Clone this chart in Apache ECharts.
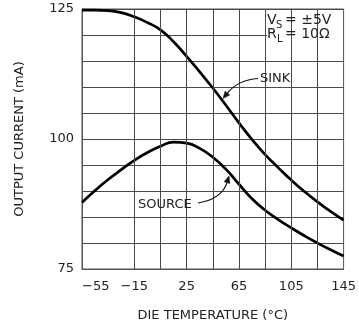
<!DOCTYPE html>
<html>
<head>
<meta charset="utf-8">
<script src="https://cdn.jsdelivr.net/npm/echarts@6/dist/echarts.min.js"></script>
<style>
html,body{margin:0;padding:0;background:#fff;}
#c{width:359px;height:327px;}
</style>
</head>
<body>
<div id="c"></div>
<script>
// Data
const temps = [-55, -45, -35, -25, -15, -5, 5, 15, 25, 35, 45, 55, 65, 75, 85, 95, 105, 115, 125, 135, 145];
const sinkCurrent = [124.8, 124.8, 124.7, 124.3, 123.5, 122.4, 121.0, 118.7, 115.9, 112.9, 109.8, 106.5, 103.1, 99.9, 97.0, 94.5, 92.1, 89.9, 87.9, 86.1, 84.4];
const sourceCurrent = [87.8, 90.1, 92.2, 94.1, 95.9, 97.4, 98.6, 99.4, 99.2, 98.2, 96.5, 94.2, 91.3, 88.5, 86.3, 84.5, 82.9, 81.4, 80.0, 78.7, 77.5];
const xTickLabels = [-55, -15, 25, 65, 105, 145];
const yTickLabels = [75, 100, 125];
const xGridLines = [-15, 5, 25, 45, 65, 85, 105, 125];

const FONT = 'DejaVu Sans';
const TXT = '#222';
const GRIDC = '#4a4a4a';

function pairs(xs, ys){ return xs.map((x,i)=>[x, ys[i]]); }

const chart = echarts.init(document.getElementById('c'), null, {renderer:'canvas'});

function arrow(x1, y1, cx, cy, tx, ty){
  const dx = tx - cx, dy = ty - cy;
  const L = Math.sqrt(dx*dx + dy*dy);
  const ux = dx / L, uy = dy / L;
  const hl = 7, hw = 3;
  const bx = tx - ux*hl, by = ty - uy*hl;
  const px = -uy, py = ux;
  return [
    {type:'bezierCurve', z:10, shape:{x1:x1, y1:y1, x2:bx, y2:by, cpx1:cx, cpy1:cy},
     style:{stroke:'#111', lineWidth:1.2, fill:null}},
    {type:'polygon', z:10, shape:{points:[[tx,ty],[bx+px*hw,by+py*hw],[bx-px*hw,by-py*hw]]},
     style:{fill:'#111', stroke:'#111', lineWidth:0.5}}
  ];
}

const textStyle = (s, size) => ({text:s, fill:TXT, font: size + 'px "' + FONT + '"', textVerticalAlign:'middle'});

const graphics = [
  {type:'rect', z:5, shape:{x:267, y:10, width:76, height:32}, style:{fill:'#fff'}},
  {type:'text', z:6, x:267, y:20, style:textStyle('V',14)},
  {type:'text', z:6, x:276, y:25, style:textStyle('S',10)},
  {type:'text', z:6, x:285, y:20, style:textStyle('= ±5V',14)},
  {type:'text', z:6, x:267, y:34, style:textStyle('R',14)},
  {type:'text', z:6, x:277, y:39, style:textStyle('L',10)},
  {type:'text', z:6, x:285, y:34, style:textStyle('= 10Ω',14)},
  {type:'text', z:6, x:260, y:79, style:textStyle('SINK',13)},
  {type:'text', z:6, x:138, y:205, style:textStyle('SOURCE',13)}
].concat(arrow(258, 78.5, 238, 80, 223, 98.5))
 .concat(arrow(198, 203, 222, 199, 229, 176));

chart.setOption({
  animation:false,
  backgroundColor:'#fff',
  grid:{left:82, right:15, top:9, bottom:57, show:true, borderColor:'#555', borderWidth:1, backgroundColor:'transparent'},
  xAxis:{
    type:'value', min:-55, max:145, interval:40,
    name:'DIE TEMPERATURE (°C)', nameLocation:'middle', nameGap:40,
    nameTextStyle:{fontFamily:FONT, fontSize:13, color:TXT},
    axisLine:{show:true, onZero:false, lineStyle:{color:'#555', width:1}},
    axisTick:{show:false},
    axisLabel:{
      margin:11, fontFamily:FONT, fontSize:13, color:TXT, alignMinLabel:'left',
      formatter:function(v){ return xTickLabels.indexOf(v) >= 0 ? String(v).replace('-', '−') : ''; }
    },
    splitLine:{show:false}
  },
  yAxis:{
    type:'value', min:75, max:125, interval:5,
    name:'OUTPUT CURRENT (mA)', nameLocation:'middle', nameGap:56, nameRotate:90,
    nameTextStyle:{fontFamily:FONT, fontSize:13, color:TXT},
    axisLine:{show:true, onZero:false, lineStyle:{color:'#555', width:1}},
    axisTick:{show:false},
    axisLabel:{
      margin:8, fontFamily:FONT, fontSize:13, color:TXT,
      formatter:function(v){ return yTickLabels.indexOf(v) >= 0 ? String(v) : ''; }
    },
    splitLine:{show:true, lineStyle:{color:GRIDC, width:1}}
  },
  series:[
    {name:'grid', type:'line', data:[], z:1, silent:true,
     markLine:{silent:true, symbol:'none', animation:false, label:{show:false},
       lineStyle:{color:GRIDC, width:1, type:'solid'},
       emphasis:{disabled:true},
       data:xGridLines.map(v => ({xAxis:v}))}},
    {name:'SINK', type:'line', data:pairs(temps, sinkCurrent), smooth:0.5, showSymbol:false,
     lineStyle:{color:'#000', width:2.7}, z:3},
    {name:'SOURCE', type:'line', data:pairs(temps, sourceCurrent), smooth:0.5, showSymbol:false,
     lineStyle:{color:'#000', width:2.7}, z:3}
  ],
  graphic:{elements:graphics}
});
</script>
</body>
</html>
